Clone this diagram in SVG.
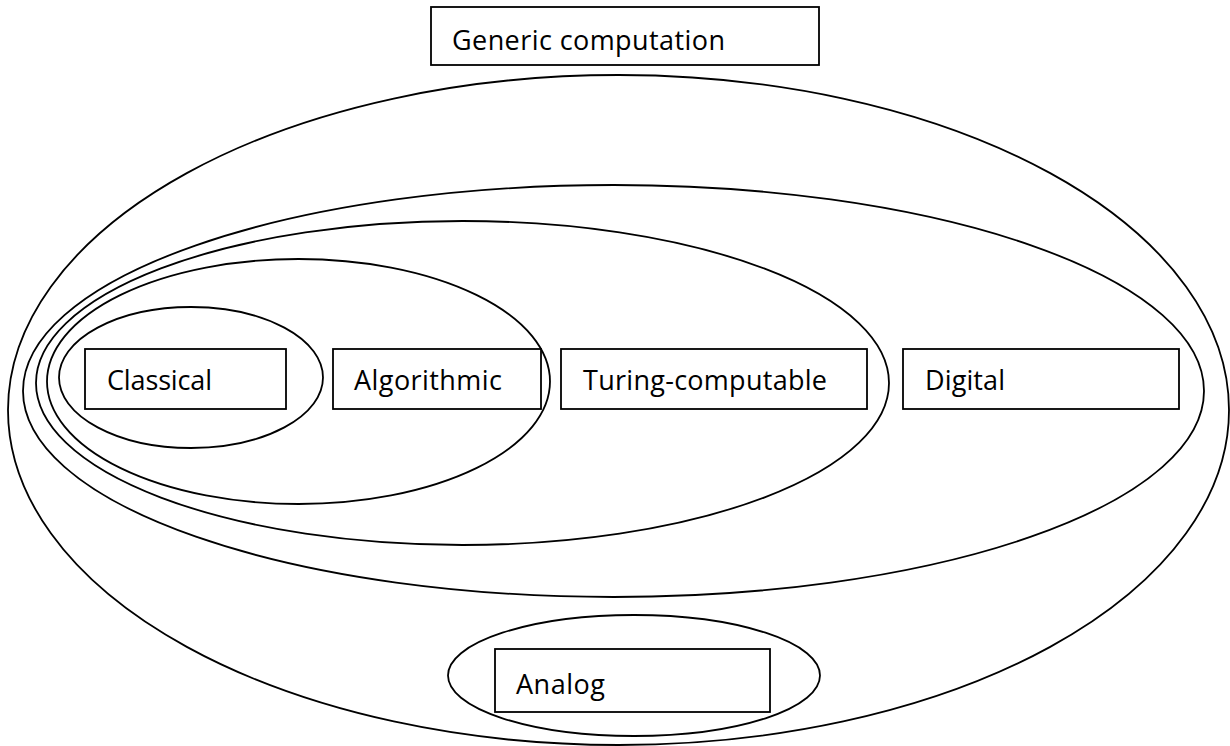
<svg xmlns="http://www.w3.org/2000/svg" width="1230" height="746" viewBox="0 0 1230 746">
  <style>
    .set { fill: none; stroke: #000; stroke-width: 1.8; }
    .box { fill: #fff; stroke: #000; stroke-width: 1.8; }
    .label { font-family: "Open Sans", "Liberation Sans", sans-serif; font-size: 27px; fill: #000; }
  </style>
  <rect width="1230" height="746" fill="#fff"/>

  <!-- nested sets, drawn as ellipses -->
  <g id="sets">
    <ellipse id="set-generic" class="set" cx="618.5" cy="410" rx="610.5" ry="335"/>
    <ellipse id="set-digital" class="set" cx="613.5" cy="391" rx="590.5" ry="206"/>
    <ellipse id="set-turing" class="set" cx="462.5" cy="383" rx="426.5" ry="162"/>
    <ellipse id="set-algorithmic" class="set" cx="298.5" cy="381.5" rx="251.5" ry="122.5"/>
    <ellipse id="set-classical" class="set" cx="191" cy="377.5" rx="132" ry="70.5"/>
    <ellipse id="set-analog" class="set" cx="634" cy="675.5" rx="186" ry="60.5"/>
  </g>

  <!-- labels -->
  <g id="generic">
    <rect class="box" x="431" y="7" width="388" height="58"/>
    <text class="label" x="452" y="50" textLength="273">Generic computation</text>
  </g>
  <g id="classical">
    <rect class="box" x="85" y="349" width="201" height="60"/>
    <text class="label" x="107" y="390" textLength="105">Classical</text>
  </g>
  <g id="algorithmic">
    <rect class="box" x="333" y="349" width="208" height="60"/>
    <text class="label" x="354" y="390" textLength="148">Algorithmic</text>
  </g>
  <g id="turing">
    <rect class="box" x="561" y="349" width="306" height="60"/>
    <text class="label" x="583" y="390" textLength="244">Turing-computable</text>
  </g>
  <g id="digital">
    <rect class="box" x="903" y="349" width="276" height="60"/>
    <text class="label" x="925" y="390" textLength="80">Digital</text>
  </g>
  <g id="analog">
    <rect class="box" x="495" y="649" width="275" height="63"/>
    <text class="label" x="516" y="694" textLength="89">Analog</text>
  </g>

  <g id="connectors"/>
</svg>
